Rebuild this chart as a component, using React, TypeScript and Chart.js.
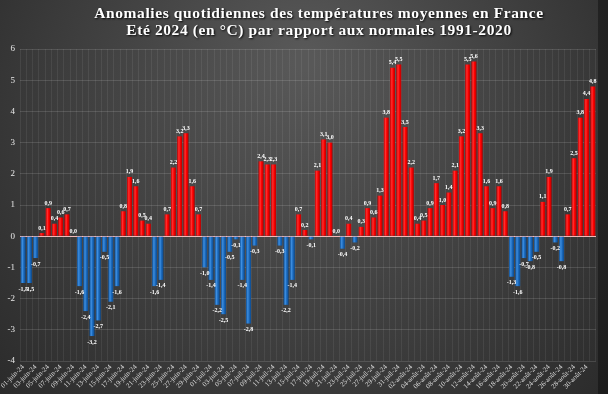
import React, { useEffect, useRef } from "react";
import { Chart, registerables } from "chart.js";
Chart.register(...registerables);

const titleLines = [
  "Anomalies quotidiennes des températures moyennes en France",
  "Eté 2024 (en °C) par rapport aux normales 1991-2020",
];

const months = ["juin", "juil", "août"];
const monthDays = [30, 31, 31];

const juneValues = [-1.5, -1.5, -0.7, 0.1, 0.9, 0.4, 0.6, 0.7, 0.0, -1.6, -2.4, -3.2, -2.7, -0.5, -2.1, -1.6, 0.8, 1.9, 1.6, 0.5, 0.4, -1.6, -1.4, 0.7, 2.2, 3.2, 3.3, 1.6, 0.7, -1.0];
const julyValues = [-1.4, -2.2, -2.5, -0.5, -0.1, -1.4, -2.8, -0.3, 2.4, 2.3, 2.3, -0.3, -2.2, -1.4, 0.7, 0.2, -0.1, 2.1, 3.1, 3.0, 0.0, -0.4, 0.4, -0.2, 0.3, 0.9, 0.6, 1.3, 3.8, 5.4, 5.5];
const augustValues = [3.5, 2.2, 0.4, 0.5, 0.9, 1.7, 1.0, 1.4, 2.1, 3.2, 5.5, 5.6, 3.3, 1.6, 0.9, 1.6, 0.8, -1.3, -1.6, -0.7, -0.8, -0.5, 1.1, 1.9, -0.2, -0.8, 0.7, 2.5, 3.8, 4.4, 4.8];

const yMin = -4;
const yMax = 6;

const categories: string[] = [];
months.forEach((m, mi) => {
  for (let d = 1; d <= monthDays[mi]; d++) {
    categories.push(String(d).padStart(2, "0") + "-" + m + "-24");
  }
});
const values = [...juneValues, ...julyValues, ...augustValues];

const fmt = (v: number) => v.toFixed(1).replace(".", ",");

const bgPlugin = {
  id: "bg",
  beforeDraw(chart: any) {
    const { ctx, width, height } = chart;
    ctx.save();
    const g = ctx.createRadialGradient(width * 0.5, 60, 10, width * 0.5, 150, 460);
    g.addColorStop(0, "#585858");
    g.addColorStop(0.5, "#3e3e3e");
    g.addColorStop(1, "#242424");
    ctx.fillStyle = g;
    ctx.fillRect(0, 0, width, height);
    ctx.fillStyle = "rgba(0,0,0,0.35)";
    ctx.fillRect(598, 0, width - 598, height);
    ctx.restore();
  },
  afterDraw(chart: any) {
    const { ctx } = chart;
    ctx.save();
    ctx.font = "bold 15.5px 'Liberation Serif'";
    ctx.textAlign = "center";
    ctx.textBaseline = "middle";
    (ctx as any).letterSpacing = "0.6px";
    ctx.shadowColor = "rgba(0,0,0,0.9)";
    ctx.shadowOffsetX = 1;
    ctx.shadowOffsetY = 1;
    ctx.shadowBlur = 2;
    ctx.fillStyle = "#ffffff";
    ctx.fillText(titleLines[0], 319, 14);
    ctx.fillText(titleLines[1], 319, 31);
    ctx.restore();
  },
};

const labelPlugin = {
  id: "vlabels",
  afterDatasetsDraw(chart: any) {
    const { ctx } = chart;
    const meta = chart.getDatasetMeta(0);
    ctx.save();
    ctx.font = "bold 6px 'Liberation Serif'";
    ctx.fillStyle = "#ffffff";
    ctx.textAlign = "center";
    meta.data.forEach((el: any, i: number) => {
      const v = values[i];
      if (v >= 0) {
        ctx.textBaseline = "bottom";
        ctx.fillText(fmt(v), el.x, el.y - 2);
      } else {
        ctx.textBaseline = "top";
        ctx.fillText(fmt(v), el.x, el.y + 3);
      }
    });
    ctx.restore();
  },
};

function barColor(context: any) {
  const chart = context.chart;
  const v = values[context.dataIndex];
  const pos = v >= 0;
  const xs = chart.scales && chart.scales.x;
  if (!xs || !chart.chartArea) return pos ? "#ee0000" : "#1c6cc0";
  const cx = xs.getPixelForValue(context.dataIndex);
  const w = 5;
  const g = chart.ctx.createLinearGradient(cx - w / 2, 0, cx + w / 2, 0);
  if (pos) {
    g.addColorStop(0, "#c00000");
    g.addColorStop(0.35, "#ff3030");
    g.addColorStop(0.6, "#ff0000");
    g.addColorStop(1, "#b40000");
  } else {
    g.addColorStop(0, "#0f4f94");
    g.addColorStop(0.35, "#3f8fe0");
    g.addColorStop(0.6, "#1c6cc0");
    g.addColorStop(1, "#0d4a8c");
  }
  return g;
}

export default function App() {
  const ref = useRef<HTMLCanvasElement | null>(null);
  useEffect(() => {
    document.body.style.margin = "0";
    const canvas = ref.current!;
    const chart = new Chart(canvas, {
      type: "bar",
      data: {
        labels: categories,
        datasets: [
          {
            data: values,
            backgroundColor: barColor as any,
            borderWidth: 0,
            categoryPercentage: 1,
            barPercentage: 0.8,
          },
        ],
      },
      options: {
        responsive: false,
        animation: false,
        devicePixelRatio: 1,
        layout: { padding: { top: 49, right: 12, left: 0, bottom: 0 } },
        plugins: {
          legend: { display: false },
          title: { display: false },
          tooltip: { enabled: false },
        },
        scales: {
          x: {
            afterFit: (s: any) => {
              s.height = 33;
            },
            grid: {
              color: "rgba(255,255,255,0.07)",
              drawTicks: false,
              offset: true,
            },
            border: { display: false },
            ticks: {
              autoSkip: false,
              maxRotation: 45,
              minRotation: 45,
              padding: 2,
              color: "#dddddd",
              font: { family: "'Liberation Serif'", size: 7 },
              callback: (_v: any, i: number) => (i % 2 === 0 ? categories[i] : ""),
            },
          },
          y: {
            min: yMin,
            max: yMax,
            afterFit: (s: any) => {
              s.width = 20;
            },
            border: { display: false },
            grid: {
              drawTicks: false,
              color: (c: any) => (c.tick && c.tick.value === 0 ? "#f2b8b8" : "rgba(255,255,255,0.13)"),
              lineWidth: 1,
            },
            ticks: {
              stepSize: 1,
              padding: 5,
              color: "#e8e8e8",
              font: { family: "'Liberation Serif'", size: 9 },
            },
          },
        },
      },
      plugins: [bgPlugin, labelPlugin],
    });
    return () => chart.destroy();
  }, []);
  return (
    <div style={{ position: "fixed", left: 0, top: 0, width: 608, height: 394 }}>
      <canvas ref={ref} width={608} height={394} style={{ display: "block" }} />
    </div>
  );
}
